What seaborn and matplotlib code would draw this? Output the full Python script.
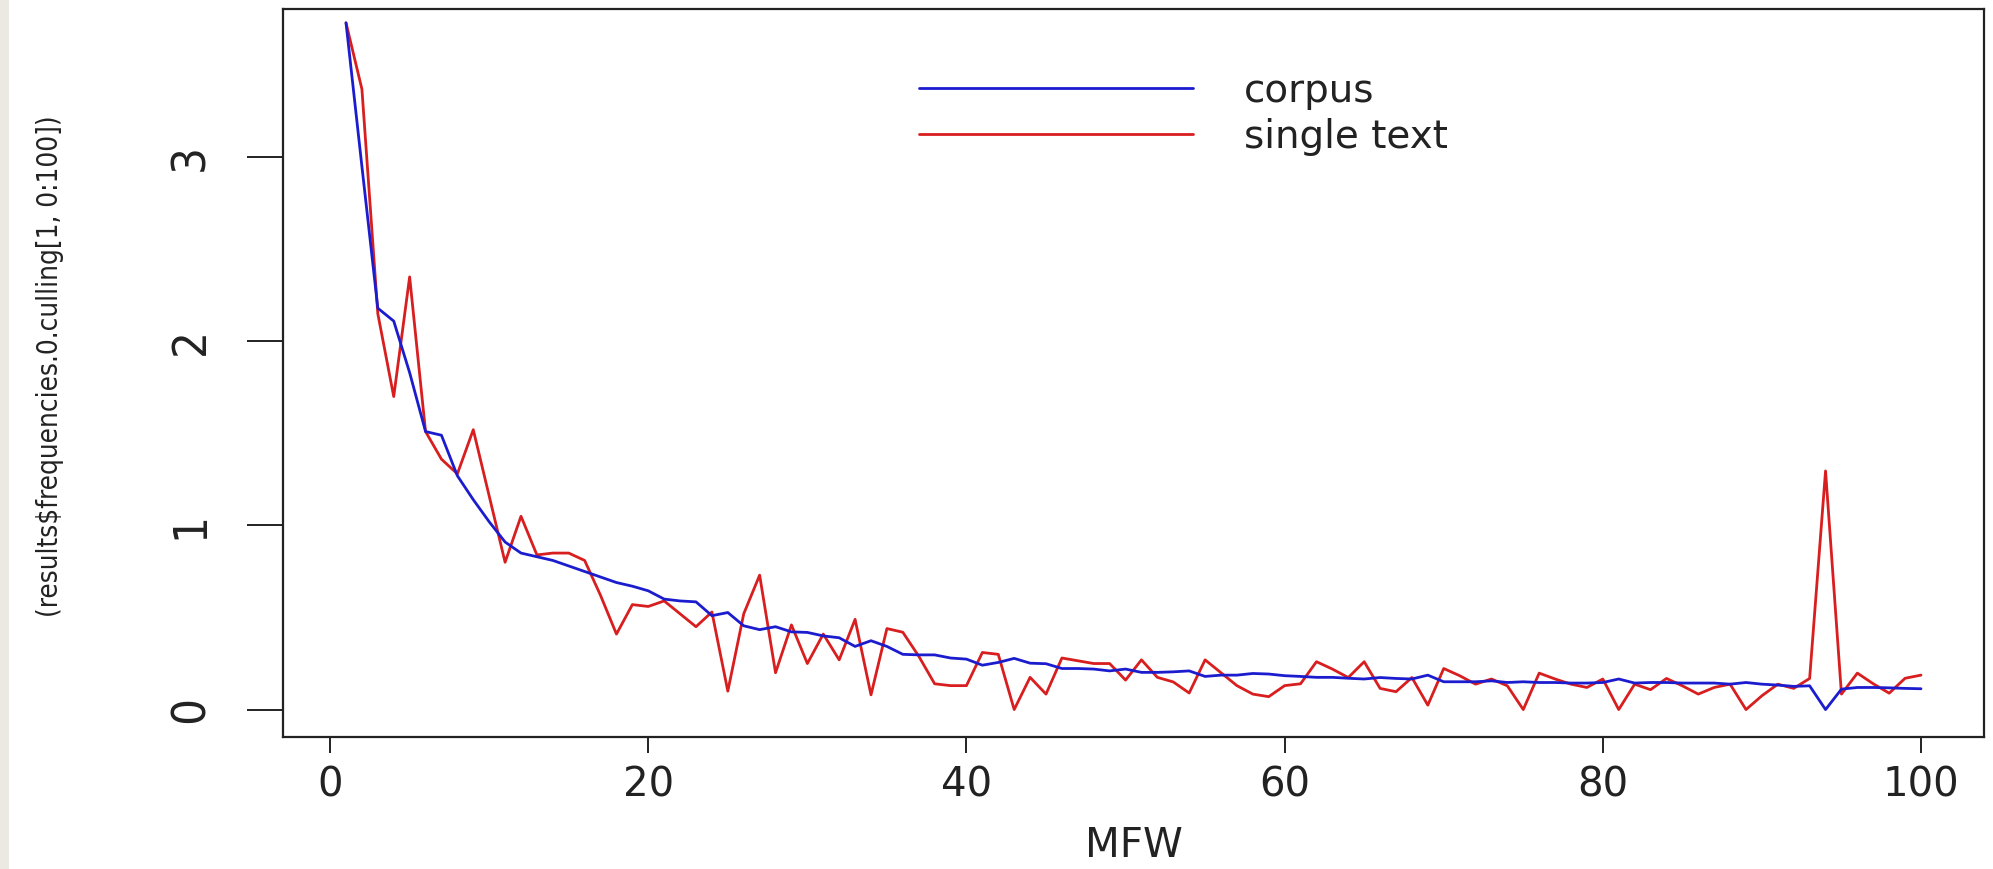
import matplotlib
matplotlib.use("Agg")
import matplotlib.pyplot as plt
import seaborn as sns
import pandas as pd
from matplotlib.patches import Rectangle
from matplotlib.lines import Line2D

# ---------------- data ----------------
mfw = list(range(1, 101))
corpus = [3.73, 2.95, 2.18, 2.11, 1.83, 1.51, 1.49, 1.27, 1.14, 1.02,
          0.91, 0.85, 0.83, 0.81, 0.78, 0.75, 0.72, 0.69, 0.67, 0.645,
          0.60, 0.59, 0.585, 0.51, 0.527, 0.455, 0.434, 0.45, 0.422, 0.419,
          0.40, 0.39, 0.343, 0.374, 0.343, 0.30, 0.297, 0.297, 0.28, 0.274,
          0.241, 0.256, 0.278, 0.252, 0.249, 0.223, 0.223, 0.22, 0.21, 0.22,
          0.202, 0.202, 0.205, 0.21, 0.18, 0.187, 0.187, 0.196, 0.193, 0.184,
          0.18, 0.175, 0.175, 0.17, 0.166, 0.174, 0.169, 0.166, 0.187, 0.151,
          0.151, 0.151, 0.156, 0.147, 0.151, 0.147, 0.147, 0.144, 0.144, 0.147,
          0.166, 0.144, 0.147, 0.147, 0.144, 0.144, 0.144, 0.138, 0.147, 0.138,
          0.133, 0.126, 0.129, 0.0, 0.111, 0.12, 0.12, 0.118, 0.115, 0.113]
single_text = [3.73, 3.37, 2.15, 1.70, 2.35, 1.51, 1.36, 1.28, 1.52, 1.16,
               0.80, 1.05, 0.84, 0.85, 0.85, 0.81, 0.62, 0.41, 0.57, 0.56,
               0.59, 0.52, 0.45, 0.53, 0.10, 0.52, 0.73, 0.20, 0.46, 0.25,
               0.41, 0.27, 0.49, 0.08, 0.44, 0.42, 0.29, 0.14, 0.13, 0.13,
               0.31, 0.30, 0.0, 0.175, 0.084, 0.28, 0.265, 0.25, 0.25, 0.16,
               0.27, 0.175, 0.15, 0.09, 0.27, 0.20, 0.13, 0.084, 0.07, 0.13,
               0.14, 0.26, 0.22, 0.174, 0.26, 0.115, 0.097, 0.174, 0.024, 0.223,
               0.184, 0.138, 0.166, 0.129, 0.0, 0.198, 0.166, 0.138, 0.12, 0.166,
               0.0, 0.138, 0.108, 0.169, 0.129, 0.084, 0.12, 0.138, 0.0, 0.075,
               0.138, 0.115, 0.169, 1.296, 0.084, 0.198, 0.14, 0.089, 0.17, 0.187]
series_names = ["corpus", "single text"]
x_ticks = [0, 20, 40, 60, 80, 100]
y_ticks = [0, 1, 2, 3]
x_label = "MFW"
y_label = "(results$frequencies.0.culling[1, 0:100])"

# ---------------- style ----------------
sns.set_theme(style="white")
plt.rcParams["font.family"] = ["DejaVu Sans"]

INK = "#222222"
W, H = 1993, 869
fig = plt.figure(figsize=(W / 100, H / 100), dpi=100)
fig.patch.set_facecolor("white")
fig.patches.append(Rectangle((0, 0), 9 / W, 1, transform=fig.transFigure,
                             facecolor="#ece9e2", edgecolor="none", zorder=0))

ax_l, ax_r, ax_t, ax_b = 283, 1984, 9, 737
ax = fig.add_axes([ax_l / W, 1 - ax_b / H, (ax_r - ax_l) / W, (ax_b - ax_t) / H])

df = pd.DataFrame({
    "MFW": mfw * 2,
    "value": corpus + single_text,
    "series": [series_names[0]] * len(mfw) + [series_names[1]] * len(mfw),
})
palette = {"corpus": "#1c1ccf", "single text": "#d81e1e"}
sns.lineplot(data=df, x="MFW", y="value", hue="series",
             hue_order=["single text", "corpus"], palette=palette,
             linewidth=2.0, ax=ax, legend=False, estimator=None)

ax.set_xlim(-2.96, 103.96)
ax.set_ylim(-0.149, 3.805)
ax.set_xticks(x_ticks)
ax.set_yticks(y_ticks)
ax.set_xticklabels([str(t) for t in x_ticks])
ax.set_yticklabels([str(t) for t in y_ticks])
for s in ax.spines.values():
    s.set_visible(True)
    s.set_color(INK)
    s.set_linewidth(1.6)

ax.tick_params(axis="x", direction="out", length=11.5, width=1.4, color=INK,
               labelsize=29, pad=9, labelcolor=INK, bottom=True)
ax.tick_params(axis="y", direction="out", length=26, width=1.4, color=INK,
               labelsize=34, pad=24, labelcolor=INK, left=True)
for lab in ax.get_yticklabels():
    lab.set_rotation(90)
    lab.set_va("center")
    lab.set_fontstretch("condensed")

ax.set_xlabel(x_label, fontsize=29, color=INK, va="top")
ax.xaxis.set_label_coords(0.5, (ax_b - 826) / (ax_b - ax_t))
ax.set_ylabel(y_label, fontsize=20, color=INK, va="center",
              fontstretch="condensed")
ax.yaxis.set_label_coords((50 - ax_l) / (ax_r - ax_l), 0.51)

# legend (corpus first)
handles = [Line2D([], [], color=palette[n], linewidth=2.0) for n in series_names]
fs_pt = 28
fs_px = fs_pt * 100 / 72
ax.legend(handles, series_names, loc="center left",
          bbox_to_anchor=(919 / W, 1 - 114 / H), bbox_transform=fig.transFigure,
          frameon=False, fontsize=fs_pt, handlelength=274 / fs_px,
          handletextpad=(1244 - 1193) / fs_px, borderpad=0, borderaxespad=0,
          labelspacing=0.2, labelcolor=INK)

fig.savefig("out.png", dpi=100)
